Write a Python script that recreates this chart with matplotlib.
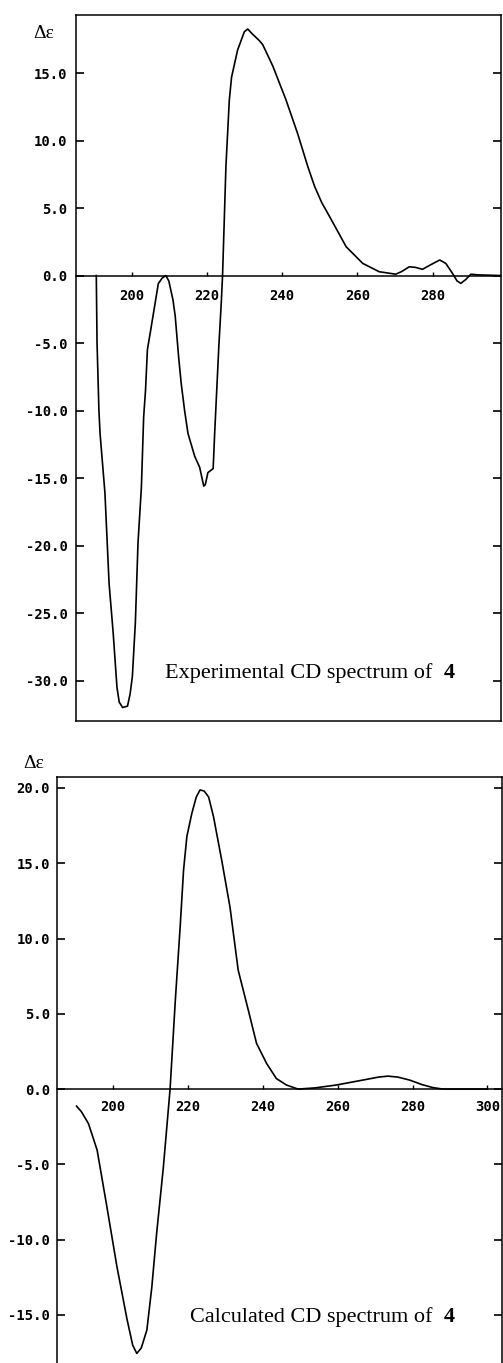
import matplotlib
matplotlib.use("Agg")
import matplotlib.pyplot as plt

# experimental CD spectrum (wavelength nm, delta epsilon)
exp_wl = [190.5, 190.7, 191.2, 191.5, 192.8, 193.9, 195.0, 196.0, 196.6, 197.5,
          198.8, 199.5, 200.1, 200.9, 201.6, 202.5, 203.1, 203.6, 204.1, 205.0,
          206.3, 207.0, 208.0, 209.0, 209.8, 210.9, 211.5, 212.4, 213.1, 214.0,
          214.9, 216.7, 218.0, 219.1, 219.5, 220.2, 221.6, 222.0, 223.1, 223.8,
          224.1, 225.0, 225.9, 226.5, 228.1, 229.9, 230.8, 232.0, 233.9, 234.8,
          237.5, 241.0, 244.1, 246.8, 248.6, 250.5, 252.6, 257.0, 261.4, 265.8,
          270.2, 271.8, 273.8, 275.5, 277.3, 279.5, 281.9, 283.5, 285.3, 286.5,
          287.5, 288.8, 290.2, 292.0, 298.0]
exp_de = [0.0, -5.0, -10.0, -11.7, -16.1, -22.8, -26.5, -30.5, -31.6, -32.0,
          -31.9, -31.0, -29.7, -25.7, -19.8, -15.7, -10.5, -8.5, -5.5, -4.0,
          -1.8, -0.6, -0.2, 0.0, -0.4, -1.8, -3.0, -6.0, -8.0, -10.0,
          -11.7, -13.4, -14.2, -15.6, -15.5, -14.6, -14.3, -11.7, -5.3, -1.8,
          0.0, 8.1, 13.0, 14.7, 16.7, 18.06, 18.26, 17.9, 17.4, 17.1,
          15.5, 13.0, 10.5, 8.06, 6.6, 5.4, 4.36, 2.13, 0.9, 0.28,
          0.1, 0.3, 0.65, 0.6, 0.46, 0.8, 1.15, 0.9, 0.16, -0.4,
          -0.58, -0.3, 0.1, 0.05, 0.0]

# calculated CD spectrum
calc_wl = [190.2, 191.5, 193.4, 195.7, 198.3, 201.0, 203.7, 205.2, 206.3, 207.5,
           209.0, 210.3, 211.6, 213.4, 215.2, 216.6, 217.9, 218.8, 219.7, 221.0,
           222.2, 223.2, 224.3, 225.5, 226.8, 229.0, 231.2, 232.3, 233.4, 236.1,
           238.3, 241.0, 243.6, 246.3, 249.4, 254.0, 259.6, 263.5, 267.6, 271.0,
           273.4, 276.0, 279.2, 282.5, 285.4, 288.1, 300.0]
calc_de = [-1.13, -1.5, -2.3, -4.05, -7.8, -11.8, -15.3, -17.0, -17.56, -17.2,
           -16.0, -13.2, -9.6, -5.2, 0.0, 5.9, 10.8, 14.55, 16.8, 18.3,
           19.4, 19.87, 19.8, 19.4, 18.1, 15.2, 12.1, 10.0, 7.9, 5.25,
           3.04, 1.7, 0.7, 0.27, 0.0, 0.08, 0.27, 0.45, 0.64, 0.8,
           0.86, 0.8, 0.6, 0.3, 0.1, 0.0, 0.0]

exp_yticks = [-30, -25, -20, -15, -10, -5, 0, 5, 10, 15]
exp_xticks = [200, 220, 240, 260, 280]
calc_yticks = [-15, -10, -5, 0, 5, 10, 15, 20]
calc_xticks = [200, 220, 240, 260, 280, 300]

W, H = 503, 1363
fig = plt.figure(figsize=(W / 100, H / 100), dpi=100)

mono = "DejaVu Sans Mono"
serif = "Liberation Serif"


def style(ax, xticks, yticks, ypad, xpad):
    ax.spines["bottom"].set_position(("data", 0))
    for s in ax.spines.values():
        s.set_linewidth(1.1)
    ax.set_xticks(xticks)
    ax.set_yticks(yticks)
    ax.set_yticklabels(["%.1f" % v for v in yticks], family=mono,
                       fontsize=10, fontweight="bold")
    ax.set_xticklabels([str(v) for v in xticks], family=mono,
                       fontsize=10, fontweight="bold")
    ax.tick_params(axis="y", direction="in", length=6, width=1.2, right=True, pad=ypad)
    ax.tick_params(axis="x", direction="in", length=3, width=1.0, pad=xpad)


# top panel: experimental
ax1 = fig.add_axes([76 / W, 1 - 721 / H, 425 / W, 706 / H])
ax1.plot(exp_wl, exp_de, color="black", lw=1.2)
ax1.set_xlim(185.1, 298.2)
ax1.set_ylim(-33.0, 19.3)
style(ax1, exp_xticks, exp_yticks, 6.0, 10)
ax1.plot([0, 1], [0, 0], transform=ax1.transAxes, color="black", lw=1.1, clip_on=False)

# bottom panel: calculated
ax2 = fig.add_axes([56.7 / W, -0.01, 445.3 / W, 0.43015 + 0.01])
ax2.plot(calc_wl, calc_de, color="black", lw=1.2)
ax2.set_xlim(184.9, 303.9)
ax2.set_ylim(-19.1, 20.75)
style(ax2, calc_xticks, calc_yticks, 5.0, 8)

# y labels
fig.text(44 / W, 1 - 33 / H, "Δε", family=serif, fontsize=14, ha="center", va="center")
fig.text(34 / W, 1 - 763 / H, "Δε", family=serif, fontsize=14, ha="center", va="center")

# captions
fig.text(432 / W, 1 - 678 / H, "Experimental CD spectrum of", family=serif,
         fontsize=16, ha="right", va="baseline")
fig.text(455 / W, 1 - 678 / H, "4", family=serif, fontsize=16, fontweight="bold",
         ha="right", va="baseline")
fig.text(432 / W, 1 - 1321.7 / H, "Calculated CD spectrum of", family=serif,
         fontsize=16, ha="right", va="baseline")
fig.text(455 / W, 1 - 1321.7 / H, "4", family=serif, fontsize=16, fontweight="bold",
         ha="right", va="baseline")

fig.savefig("out.png", dpi=100)
